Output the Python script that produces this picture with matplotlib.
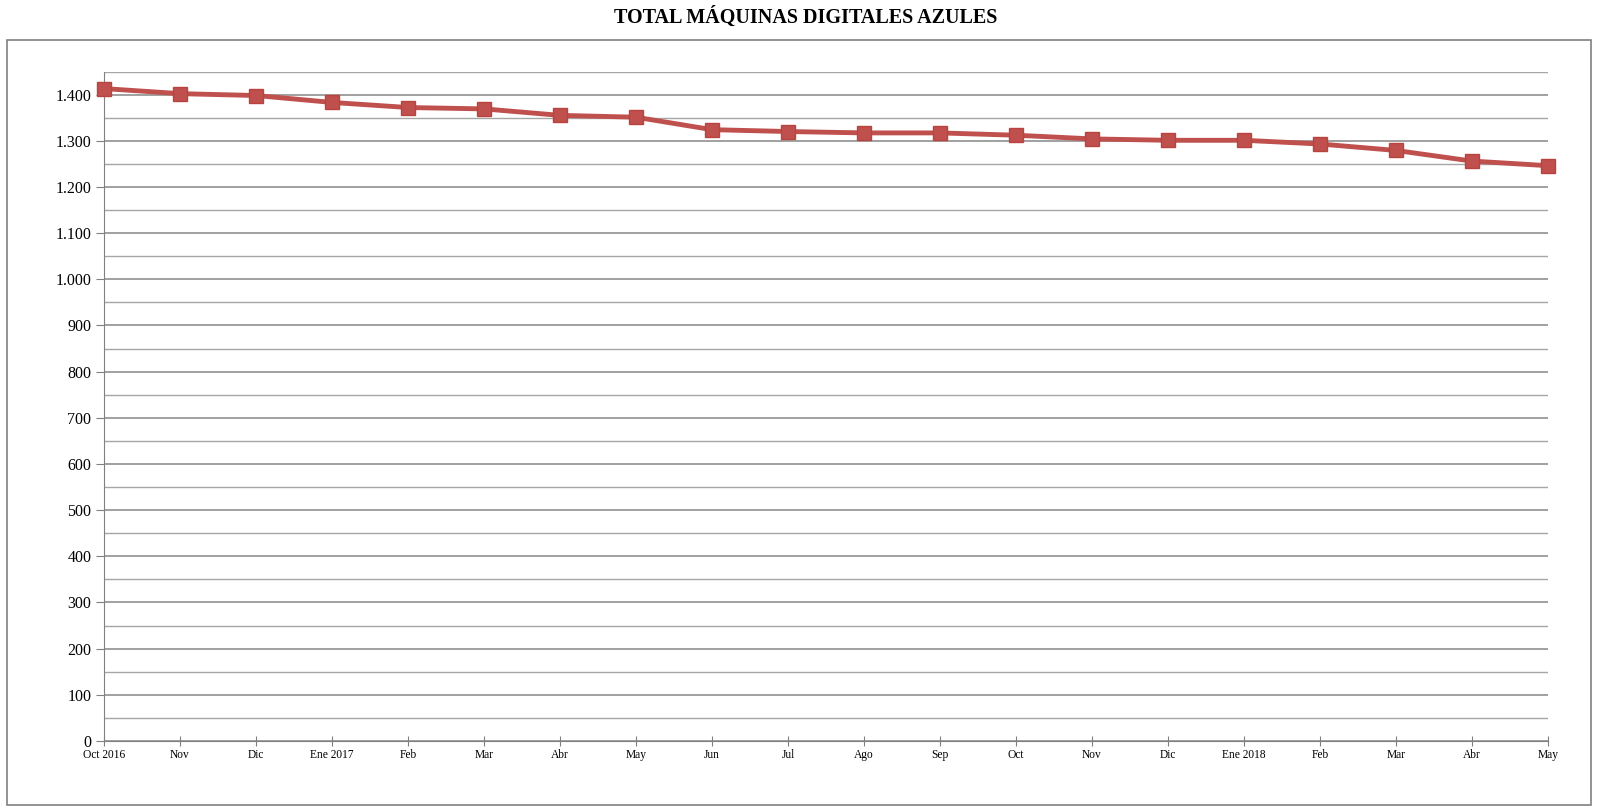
import matplotlib
matplotlib.use("Agg")
import matplotlib.pyplot as plt
from matplotlib.patches import Rectangle
from matplotlib.ticker import FuncFormatter, MultipleLocator

months = ["Oct 2016", "Nov", "Dic", "Ene 2017", "Feb", "Mar", "Abr", "May", "Jun", "Jul",
          "Ago", "Sep", "Oct", "Nov", "Dic", "Ene 2018", "Feb", "Mar", "Abr", "May"]
values = [1413, 1402, 1398, 1383, 1372, 1369, 1355, 1351, 1324, 1320,
          1317, 1317, 1312, 1304, 1301, 1301, 1293, 1279, 1256, 1246]
title = "TOTAL MÁQUINAS DIGITALES AZULES"

plt.rcParams['font.family'] = ['Liberation Serif', 'DejaVu Serif']

W, H = 1600, 810
fig = plt.figure(figsize=(W / 100, H / 100), dpi=100)
fig.patch.set_facecolor("white")

# outer frame
fig.add_artist(Rectangle((7 / W, 1 - 805 / H), (1591 - 7) / W, (805 - 40) / H,
                         transform=fig.transFigure, fill=False, edgecolor="#808080", lw=1.2))

left, right = 104 / W, 1548 / W
top, bottom = 1 - 71.5 / H, 1 - 741 / H
ax = fig.add_axes([left, bottom, right - left, top - bottom])

x = list(range(len(months)))
ax.plot(x, values, color="#C0504D", lw=3.5, marker="s", markersize=10.5,
        markerfacecolor="#C0504D", markeredgecolor="#B84440", zorder=5, clip_on=False)

ax.set_xlim(0, len(months) - 1)
ax.set_ylim(0, 1450)
ax.yaxis.set_major_locator(MultipleLocator(100))
ax.yaxis.set_minor_locator(MultipleLocator(50))
ax.yaxis.set_major_formatter(FuncFormatter(lambda v, p: f"{int(v):,}".replace(",", ".")))
ax.grid(which="major", axis="y", color="#868686", lw=1.1)
ax.grid(which="minor", axis="y", color="#A6A6A6", lw=1.0)
ax.set_axisbelow(True)

ax.set_xticks(x)
ax.set_xticklabels(months, fontsize=8.3)
ax.tick_params(axis="x", direction="inout", length=7, color="#808080", pad=2)
ax.tick_params(axis="y", which="major", direction="out", length=6, color="#808080",
               labelsize=11.5, pad=3)
ax.tick_params(axis="y", which="minor", length=0)

for s in ["top", "right"]:
    ax.spines[s].set_visible(False)
ax.spines["left"].set_color("#808080")
ax.spines["bottom"].set_color("#808080")

fig.text(806 / W, 1 - 17 / H, title, ha="center", va="center", fontsize=14.5,
         fontweight="bold")

fig.savefig("out.png", dpi=100, facecolor="white")
